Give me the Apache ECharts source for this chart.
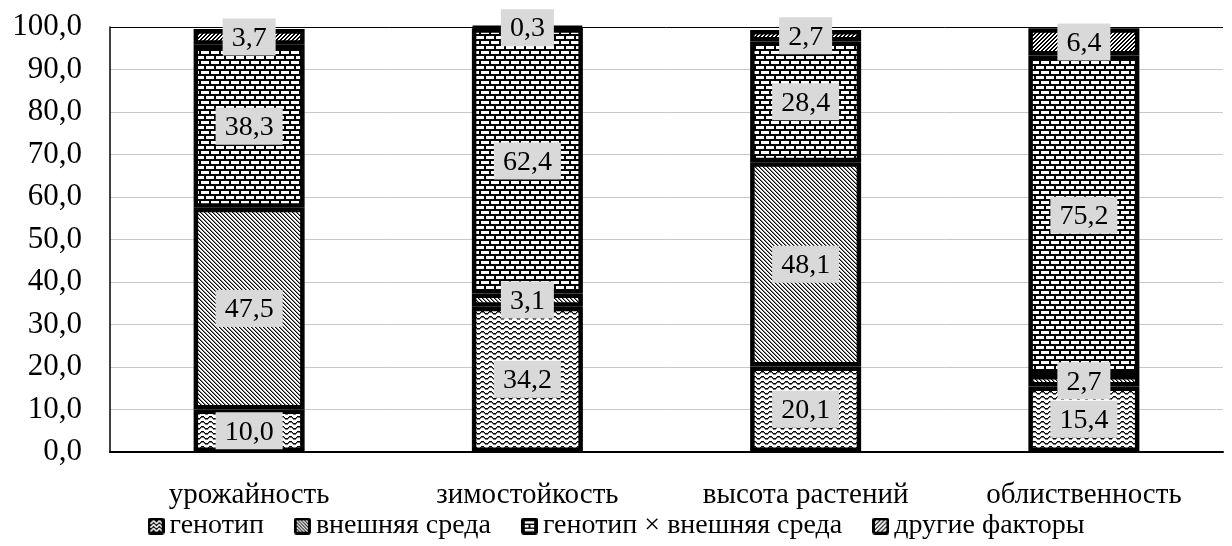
<!DOCTYPE html>
<html>
<head>
<meta charset="utf-8">
<script src="https://cdn.jsdelivr.net/npm/echarts@6/dist/echarts.min.js"></script>
<style>
  html, body { margin: 0; padding: 0; background: #ffffff; }
  #chart { width: 1232px; height: 546px; }
</style>
</head>
<body>
<div id="chart"></div>
<script>
// Traits and the share (%) of variance explained by each factor
const categories = ['урожайность', 'зимостойкость', 'высота растений', 'облиственность'];
const seriesNames = ['генотип', 'внешняя среда', 'генотип × внешняя среда', 'другие факторы'];
const genotype = [10.0, 34.2, 20.1, 15.4];
const environment = [47.5, 3.1, 48.1, 2.7];
const interaction = [38.3, 62.4, 28.4, 75.2];
const otherFactors = [3.7, 0.3, 2.7, 6.4];
const yTicks = { min: 0, max: 100, interval: 10 };

const FONT = '"Liberation Serif", "Times New Roman", serif';

function makeCanvas(w, h) {
  const c = document.createElement('canvas');
  c.width = w; c.height = h;
  return c;
}

// Pixel-exact tiles: white background, shade(x, y) returns a colour or null
function pixelTile(w, h, shade) {
  const c = makeCanvas(w, h);
  const g = c.getContext('2d');
  g.fillStyle = '#fff'; g.fillRect(0, 0, w, h);
  for (let y = 0; y < h; y++) {
    for (let x = 0; x < w; x++) {
      const col = shade(x, y);
      if (col) { g.fillStyle = col; g.fillRect(x, y, 1, 1); }
    }
  }
  return c;
}

// wavy rows
const waveRows = [2, 1, 1, 1, 2, 3, 3, 3];
const waveTile = pixelTile(8, 5, (x, y) =>
  waveRows[x] === y ? '#000' : (waveRows[x] + 1 === y ? '#777' : null));
// fine "\" hatching
const backslashTile = pixelTile(4, 4, (x, y) =>
  x === y ? '#000' : ((x + 3) % 4 === y ? '#8a8a8a' : null));
// bold "/" hatching
const slashTile = pixelTile(4, 4, (x, y) =>
  (((x + y) % 4) === 3 || ((x + y) % 4) === 0) ? '#000' : null);
// brickwork: black mortar, white bricks with offset rows
function brickTile() {
  const c = makeCanvas(10, 10);
  const g = c.getContext('2d');
  g.fillStyle = '#000'; g.fillRect(0, 0, 10, 10);
  g.fillStyle = '#fff';
  g.fillRect(1, 1, 8, 3);
  g.fillRect(0, 6, 4, 3);
  g.fillRect(6, 6, 4, 3);
  return c;
}

// --- legend icons: black rounded tile with a white motif ------------------
function legendIcon(drawMotif) {
  const s = 18;
  const c = makeCanvas(s, s);
  const g = c.getContext('2d');
  g.fillStyle = '#000';
  const r = 3;
  g.beginPath();
  g.moveTo(r, 0); g.lineTo(s - r, 0); g.quadraticCurveTo(s, 0, s, r);
  g.lineTo(s, s - r); g.quadraticCurveTo(s, s, s - r, s);
  g.lineTo(r, s); g.quadraticCurveTo(0, s, 0, s - r);
  g.lineTo(0, r); g.quadraticCurveTo(0, 0, r, 0);
  g.fill();
  g.save();
  g.beginPath(); g.rect(3, 3, s - 6, s - 6); g.clip();
  g.strokeStyle = '#fff'; g.fillStyle = '#fff';
  drawMotif(g, s);
  g.restore();
  return 'image://' + c.toDataURL();
}

const icons = [
  legendIcon((g, s) => {
    g.lineWidth = 1.6;
    for (let y = 5; y < s; y += 4) {
      g.beginPath();
      for (let x = 2; x <= s - 2; x += 0.5) {
        const yy = y + 1.3 * Math.sin((x - 2) / 6 * Math.PI * 2);
        if (x === 2) g.moveTo(x, yy); else g.lineTo(x, yy);
      }
      g.stroke();
    }
  }),
  legendIcon((g, s) => {
    g.lineWidth = 1.5;
    for (let k = -s; k < s; k += 3.5) {
      g.beginPath(); g.moveTo(k, 0); g.lineTo(k + s, s); g.stroke();
    }
  }),
  legendIcon((g, s) => {
    g.fillRect(4, 4, 10, 2.5);
    g.fillRect(4, 8, 4, 2.5); g.fillRect(10, 8, 4, 2.5);
    g.fillRect(4, 12, 10, 2.5);
  }),
  legendIcon((g, s) => {
    g.lineWidth = 2;
    for (let k = 0; k < 2 * s; k += 4.5) {
      g.beginPath(); g.moveTo(k, 0); g.lineTo(k - s, s); g.stroke();
    }
  })
];

const fills = [
  { image: waveTile, repeat: 'repeat' },
  { image: backslashTile, repeat: 'repeat' },
  { image: brickTile(), repeat: 'repeat' },
  { image: slashTile, repeat: 'repeat' }
];

const seriesData = [genotype, environment, interaction, otherFactors];

const fmt = v => v.toFixed(1).replace('.', ',');

const chart = echarts.init(document.getElementById('chart'), null, { renderer: 'canvas' });

const gridColors = [];
for (let i = 0; i < 10; i++) gridColors.push('#c8c8c8');
gridColors.push('#000');

chart.setOption({
  animation: false,
  backgroundColor: '#ffffff',
  textStyle: { fontFamily: FONT },
  grid: { left: 110, right: 9, top: 27, bottom: 94, containLabel: false },
  legend: {
    bottom: 1,
    left: 'center',
    itemWidth: 17,
    itemHeight: 17,
    itemGap: 30,
    formatter: n => '{t|' + n + '}',
    textStyle: {
      fontFamily: FONT, fontSize: 28, color: '#000',
      rich: { t: { fontFamily: FONT, fontSize: 28, color: '#000' } }
    },
    data: seriesNames.map((n, i) => ({ name: n, icon: icons[i] }))
  },
  xAxis: {
    type: 'category',
    data: categories,
    axisLine: { lineStyle: { color: '#000', width: 2 } },
    axisTick: { show: false },
    axisLabel: { fontFamily: FONT, fontSize: 29, color: '#000', margin: 29 }
  },
  yAxis: {
    type: 'value',
    min: yTicks.min,
    max: yTicks.max,
    interval: yTicks.interval,
    axisLine: { show: true, lineStyle: { color: '#000', width: 1.5 } },
    axisTick: { show: false },
    splitLine: { lineStyle: { color: gridColors, width: 1 } },
    axisLabel: { fontFamily: FONT, fontSize: 31, color: '#000', margin: 28, formatter: v => fmt(v) }
  },
  series: seriesNames.map((name, i) => ({
    name,
    type: 'bar',
    stack: 'total',
    barWidth: 111,
    data: seriesData[i],
    itemStyle: { color: fills[i], borderColor: '#000', borderWidth: 4.5 },
    label: {
      show: true,
      position: 'inside',
      formatter: p => '{t|' + fmt(p.value) + '}',
      fontFamily: FONT,
      fontSize: 28,
      backgroundColor: '#d9d9d9',
      padding: [6, 9, 3, 9],
      rich: { t: { fontFamily: FONT, fontSize: 28, color: '#000' } }
    }
  }))
});
</script>
</body>
</html>
